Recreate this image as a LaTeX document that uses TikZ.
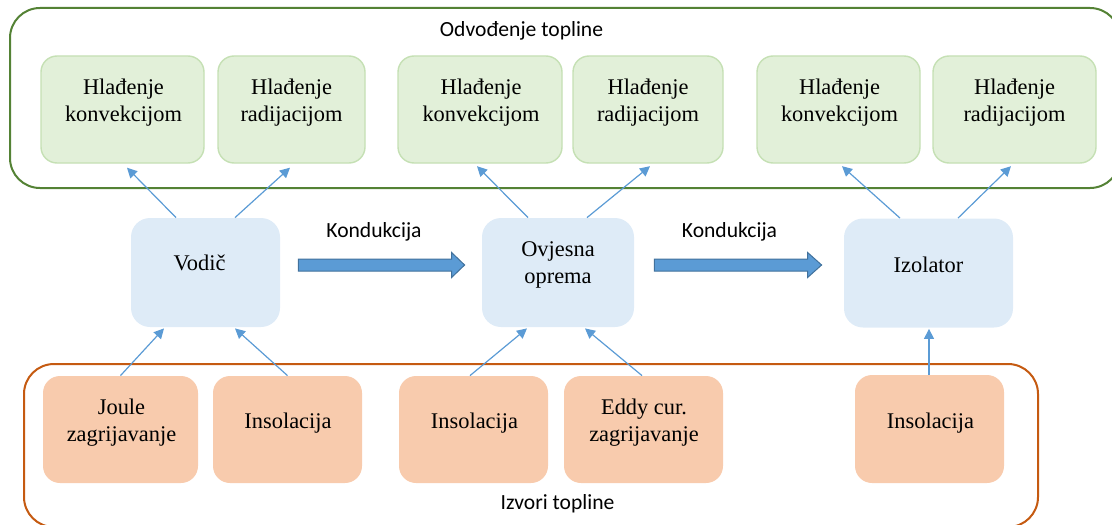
\documentclass[tikz,border=0pt]{standalone}
\usepackage{fontspec}
\setmainfont{Liberation Serif}
\newfontfamily\calib{Carlito}
\usetikzlibrary{calc,arrows.meta}
\definecolor{gfill}{HTML}{E2F0D9}
\definecolor{gline}{HTML}{C5E0B4}
\definecolor{bfill}{HTML}{DEEBF7}
\definecolor{ofill}{HTML}{F8CBAD}
\definecolor{tgreen}{HTML}{548235}
\definecolor{borange}{HTML}{C55A11}
\definecolor{arr}{HTML}{5B9BD5}
\definecolor{arrd}{HTML}{41719C}
\begin{document}
\begin{tikzpicture}[x=0.5pt,y=-0.5pt,
 gbox/.style={draw=gline,line width=0.7pt,fill=gfill,rounded corners=8pt,minimum height=53.5pt,inner sep=0pt},
 bbox/.style={fill=bfill,rounded corners=9.5pt,minimum height=54.5pt,inner sep=0pt},
 obox/.style={fill=ofill,rounded corners=8.5pt,minimum height=53.5pt,inner sep=0pt},
 txt/.style={font=\fontsize{11.2}{13.5}\selectfont,align=center,inner sep=0pt},
 lbl/.style={font=\calib\fontsize{10.8}{13}\selectfont,anchor=base,inner sep=0pt},
 flow/.style={draw=arr,line width=0.6pt,-{Triangle[length=5pt,width=5pt]}},
 big/.style={fill=arr,draw=arrd,line width=0.5pt},
 cont/.style={line width=1pt,rounded corners=15pt}]
\useasboundingbox (0,0) rectangle (1112,524);
\clip (0,0) rectangle (1112,524);
% containers
\draw[cont,draw=tgreen] (10,8) rectangle (1120,188);
\draw[cont,draw=borange] (24,364) rectangle (1038,527);
\node[lbl] (tl) at (521.5,37) {Odvođenje topline};
\node[lbl] (bl) at (557.5,509) {Izvori topline};
% green boxes
\node[gbox,minimum width=81.5pt] (g1) at (122.5,109.5) {};
\node[gbox,minimum width=73.5pt] (g2) at (291.5,109.5) {};
\node[gbox,minimum width=82pt] (g3) at (480,109.5) {};
\node[gbox,minimum width=75pt] (g4) at (648,109.5) {};
\node[gbox,minimum width=81.5pt] (g5) at (838.5,109.5) {};
\node[gbox,minimum width=81.5pt] (g6) at (1014.5,109.5) {};
\node[txt] (g1t) at ($(g1)+(1,-7)$) {Hlađenje\\konvekcijom};
\node[txt] (g2t) at ($(g2)+(0,-7)$) {Hlađenje\\radijacijom};
\node[txt] (g3t) at ($(g3)+(1,-7)$) {Hlađenje\\konvekcijom};
\node[txt] (g4t) at ($(g4)+(0,-7)$) {Hlađenje\\radijacijom};
\node[txt] (g5t) at ($(g5)+(1,-7)$) {Hlađenje\\konvekcijom};
\node[txt] (g6t) at ($(g6)+(0,-7)$) {Hlađenje\\radijacijom};
% blue boxes
\node[bbox,minimum width=74.5pt] (v) at (205.5,272.5) {};
\node[bbox,minimum width=76pt] (o) at (558,272.5) {};
\node[bbox,minimum width=84.5pt] (iz) at (928.5,273) {};
\node[txt] (vt) at ($(v)+(-6,-9.5)$) {Vodič};
\node[txt] (ot) at ($(o)+(0,-8)$) {Ovjesna\\oprema};
\node[txt] (izt) at ($(iz)+(0,-8)$) {Izolator};
% orange boxes
\node[obox,minimum width=77.5pt] (j) at (120.5,429.5) {};
\node[obox,minimum width=74.5pt] (i1) at (287.5,429.5) {};
\node[obox,minimum width=74.5pt] (i2) at (473.5,429.5) {};
\node[obox,minimum width=79.5pt] (e) at (643.5,429.5) {};
\node[obox,minimum width=74.5pt,minimum height=54pt] (i3) at (929.5,429) {};
\node[txt] (jt) at ($(j)+(1,-6.5)$) {Joule\\zagrijavanje};
\node[txt] (i1t) at ($(i1)+(0.5,-6)$) {Insolacija};
\node[txt] (i2t) at ($(i2)+(1,-6)$) {Insolacija};
\node[txt] (et) at ($(e)+(0.5,-6.5)$) {Eddy cur.\\zagrijavanje};
\node[txt] (i3t) at ($(i3)+(1,-6)$) {Insolacija};
% conduction arrows
\coordinate (k1a) at ($(v.east)+(18,-7.5)$);
\coordinate (k1b) at ($(o.west)+(-17,-7.5)$);
\coordinate (k2a) at ($(o.east)+(20,-7.5)$);
\coordinate (k2b) at ($(iz.west)+(-22,-8)$);
\draw[big] ($(k1a)+(0,-6)$) -- ($(k1b)+(-13,-6)$) -- ($(k1b)+(-13,-12.5)$) -- (k1b) -- ($(k1b)+(-13,12.5)$) -- ($(k1b)+(-13,6)$) -- ($(k1a)+(0,6)$) -- cycle;
\draw[big] ($(k2a)+(0,-6)$) -- ($(k2b)+(-14,-6)$) -- ($(k2b)+(-14,-12.5)$) -- (k2b) -- ($(k2b)+(-14,12.5)$) -- ($(k2b)+(-14,6)$) -- ($(k2a)+(0,6)$) -- cycle;
\node[lbl] (kl1) at (374,237) {Kondukcija};
\node[lbl] (kl2) at (729.5,237) {Kondukcija};
% cooling arrows
\draw[flow] ($(v.north)+(-29.5,0)$) -- ($(g1.south)+(4.5,4)$);
\draw[flow] ($(v.north)+(29.5,0)$) -- ($(g2.south)+(-1.5,4)$);
\draw[flow] ($(o.north)+(-30,0)$) -- ($(g3.south)+(-3,2.5)$);
\draw[flow] ($(o.north)+(29,0)$) -- ($(g4.south)+(2,2.5)$);
\draw[flow] ($(iz.north)+(-28.5,0)$) -- ($(g5.south)+(3.5,2.5)$);
\draw[flow] ($(iz.north)+(29.5,0)$) -- ($(g6.south)+(-3.5,2.5)$);
% source arrows
\draw[flow] ($(j.north)+(0,0)$) -- ($(v.south)+(-41.5,1)$);
\draw[flow] ($(i1.north)+(0,0)$) -- ($(v.south)+(29.5,1)$);
\draw[flow] ($(i2.north)+(-3.5,0)$) -- ($(o.south)+(-31,1)$);
\draw[flow] ($(e.north)+(-1.5,0)$) -- ($(o.south)+(27,1)$);
\draw[flow] ($(i3.north)+(-0.5,0)$) -- ($(iz.south)+(0.5,1)$);
\end{tikzpicture}
\end{document}
